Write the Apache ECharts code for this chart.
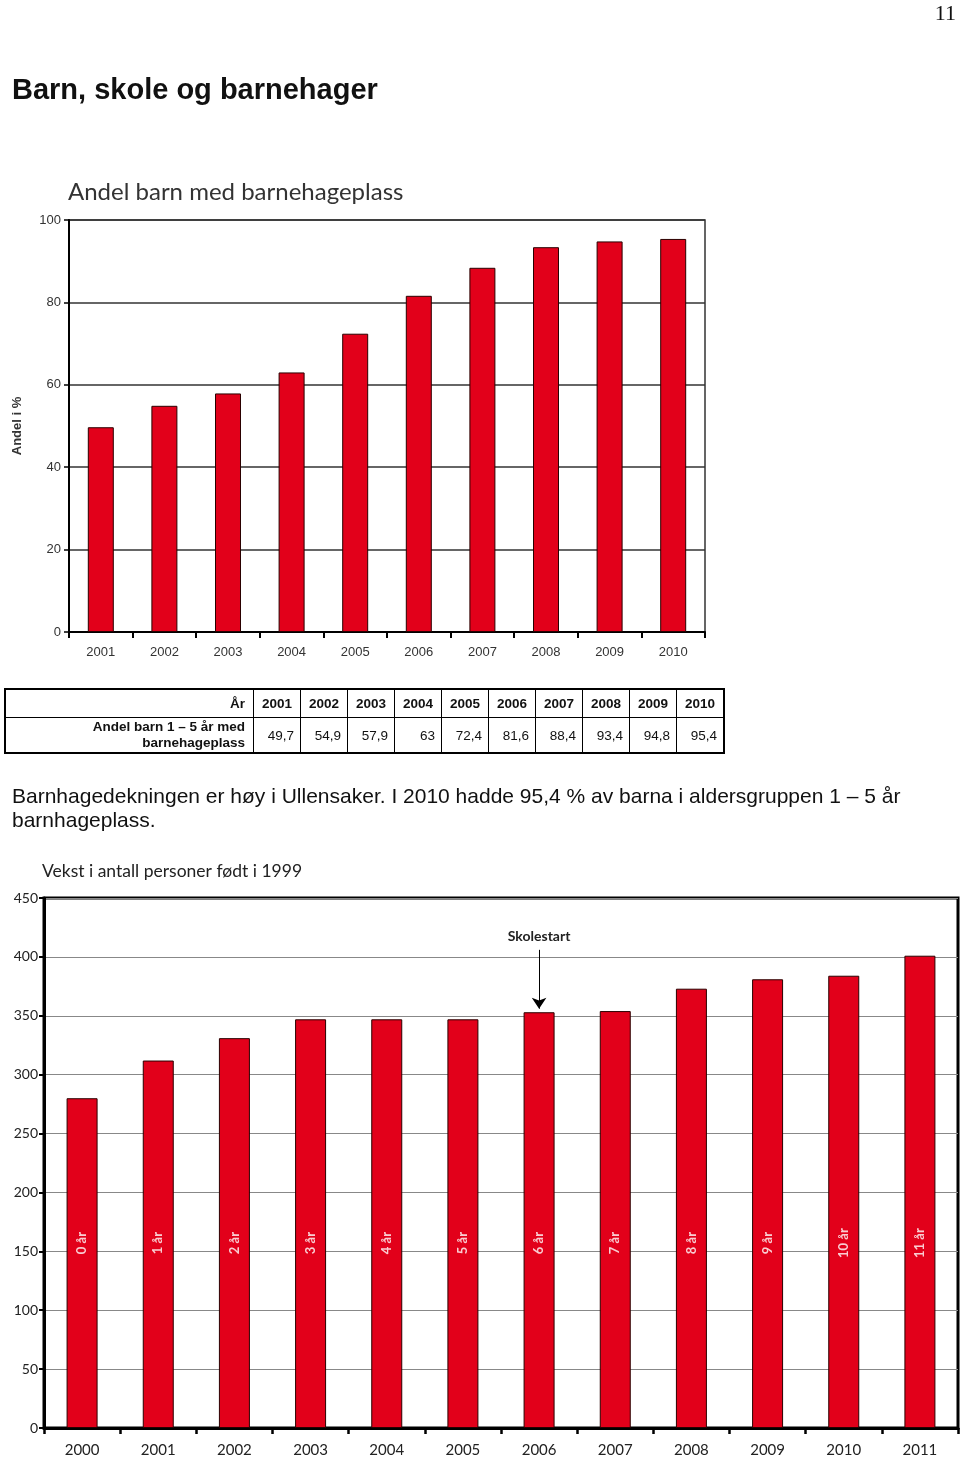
<!DOCTYPE html>
<html><head><meta charset="utf-8">
<script src="https://cdn.jsdelivr.net/npm/echarts@6/dist/echarts.min.js"></script>
<style>
html,body{margin:0;padding:0;background:#fff;}
#chart{position:absolute;left:0;top:0;width:960px;height:1458px;}
.abs{position:absolute;}
#pagenum{right:4px;top:0px;font-family:"Liberation Serif","DejaVu Serif",serif;font-size:22px;color:#111;}
#title{left:12px;top:73px;font-family:"Liberation Sans",Arial,sans-serif;font-weight:bold;font-size:29px;color:#111;}
#para{left:12px;top:784px;width:930px;font-family:"Liberation Sans",Arial,sans-serif;font-size:21px;line-height:24px;color:#111;}
#tbl{position:absolute;left:4px;top:688px;border-collapse:collapse;font-family:"Liberation Sans",Arial,sans-serif;font-size:13.5px;color:#111;border:2px solid #000;}
#tbl td{border:1.5px solid #000;padding:0 6px;text-align:right;}
#tbl tr.h td{height:27px;font-weight:bold;text-align:center;}
#tbl tr.h td.first{text-align:right;}
#tbl tr.d td{height:34px;}
#tbl td.first{width:233px;font-weight:bold;line-height:16px;padding-right:8px;}
#tbl td.c{width:34px;}
</style></head><body>
<div id="chart"></div>
<div id="pagenum" class="abs">11</div>
<div id="title" class="abs">Barn, skole og barnehager</div>
<table id="tbl"></table>
<div id="para" class="abs">Barnhagedekningen er høy i Ullensaker. I 2010 hadde 95,4 % av barna i aldersgruppen 1 – 5 år barnhageplass.</div>
<script>
// ---- data ----
const years1 = ['2001','2002','2003','2004','2005','2006','2007','2008','2009','2010'];
const share = [49.7, 54.9, 57.9, 63, 72.4, 81.6, 88.4, 93.4, 94.8, 95.4];
const yTicks1 = {min: 0, max: 100, interval: 20};

const years2 = ['2000','2001','2002','2003','2004','2005','2006','2007','2008','2009','2010','2011'];
const persons = [280, 312, 331, 347, 347, 347, 353, 354, 373, 381, 384, 401];
const ageLabels = ['0 år','1 år','2 år','3 år','4 år','5 år','6 år','7 år','8 år','9 år','10 år','11 år'];
const yTicks2 = {min: 0, max: 450, interval: 50};

const tableHeader = 'År';
const tableRowLabel = 'Andel barn 1 – 5 år med<br>barnehageplass';
const annotationText = 'Skolestart';
const annotationYear = '2006';
const annotationFrom = 406;
const annotationTo = 356;
const ageLabelLevel = 157;

// ---- table ----
const tbl = document.getElementById('tbl');
let h = '<tr class="h"><td class="first">' + tableHeader + '</td>';
years1.forEach(y => { h += '<td class="c">' + y + '</td>'; });
h += '</tr><tr class="d"><td class="first">' + tableRowLabel + '</td>';
share.forEach(v => { h += '<td class="c">' + String(v).replace('.', ',') + '</td>'; });
h += '</tr>';
tbl.innerHTML = h;

// ---- chart ----
const RED = '#e2001a';
const chart = echarts.init(document.getElementById('chart'), null, {renderer: 'canvas'});
const narrow = '"Liberation Sans Narrow","Liberation Sans",Arial,sans-serif';
const myriad = 'Lato,"Open Sans",sans-serif';
chart.setOption({
  animation: false,
  title: [
    {text: 'Andel barn med barnehageplass', left: 68, top: 180, padding: 0,
     textStyle: {fontFamily: myriad, fontSize: 24, fontWeight: 'normal', color: '#333'}},
    {text: 'Vekst i antall personer født i 1999', left: 42, top: 862, padding: 0,
     textStyle: {fontFamily: myriad, fontSize: 17.5, fontWeight: 'normal', color: '#222'}}
  ],
  grid: [
    {left: 69, top: 220, width: 636, height: 412, show: true, borderColor: '#333', borderWidth: 1.5, containLabel: false},
    {left: 44, top: 898, width: 914, height: 534, show: true, borderColor: '#000', borderWidth: 3, containLabel: false}
  ],
  xAxis: [
    {type: 'category', gridIndex: 0, data: years1,
     axisLine: {lineStyle: {color: '#000', width: 2}},
     axisTick: {show: true, length: 6, lineStyle: {color: '#000', width: 2}},
     axisLabel: {margin: 14, fontSize: 13, color: '#333', fontFamily: narrow}},
    {type: 'category', gridIndex: 1, data: years2,
     axisLine: {lineStyle: {color: '#000', width: 3}},
     axisTick: {show: true, length: 6, lineStyle: {color: '#000', width: 2.5}},
     axisLabel: {margin: 15, fontSize: 15, color: '#222', fontFamily: myriad}}
  ],
  yAxis: [
    {type: 'value', gridIndex: 0, min: yTicks1.min, max: yTicks1.max, interval: yTicks1.interval,
     name: 'Andel i %', nameLocation: 'middle', nameGap: 45,
     nameTextStyle: {fontSize: 13, fontWeight: 'bold', color: '#333', fontFamily: narrow},
     axisLine: {show: true, lineStyle: {color: '#000', width: 2}},
     axisTick: {show: true, length: 5, lineStyle: {color: '#000', width: 1.5}},
     splitLine: {lineStyle: {color: '#333', width: 1.5}},
     axisLabel: {margin: 8, fontSize: 13, color: '#333', fontFamily: narrow}},
    {type: 'value', gridIndex: 1, min: yTicks2.min, max: yTicks2.max, interval: yTicks2.interval,
     axisLine: {show: true, lineStyle: {color: '#000', width: 3}},
     axisTick: {show: true, length: 5, lineStyle: {color: '#000', width: 2}},
     splitLine: {lineStyle: {color: '#888', width: 1}},
     axisLabel: {margin: 6, fontSize: 14, color: '#222', fontFamily: myriad}}
  ],
  series: [
    {type: 'bar', xAxisIndex: 0, yAxisIndex: 0, data: share, barWidth: 26,
     itemStyle: {color: RED, borderColor: '#2a0000', borderWidth: 1}},
    {type: 'bar', xAxisIndex: 1, yAxisIndex: 1, data: persons, barWidth: 31,
     itemStyle: {color: RED, borderColor: '#2a0000', borderWidth: 1},
     markLine: {
       silent: true, animation: false,
       lineStyle: {color: '#000', width: 1, type: 'solid'},
       symbolSize: 11,
       label: {show: true, position: 'start', formatter: annotationText, fontFamily: myriad,
               fontWeight: 'bold', fontSize: 14, color: '#222', distance: 6},
       data: [[{coord: [annotationYear, annotationFrom], symbol: 'none'},
               {coord: [annotationYear, annotationTo], symbol: 'arrow'}]]
     }},
    {type: 'scatter', xAxisIndex: 1, yAxisIndex: 1, silent: true, z: 10,
     data: ageLabels.map((t, i) => [i, ageLabelLevel]),
     symbolSize: 2, itemStyle: {color: 'rgba(0,0,0,0)'},
     label: {show: true, position: 'inside', rotate: 90, color: '#fff', fontWeight: 'bold',
             fontSize: 13, fontFamily: myriad,
             formatter: p => ageLabels[p.dataIndex]}}
  ]
});
</script>
</body></html>
